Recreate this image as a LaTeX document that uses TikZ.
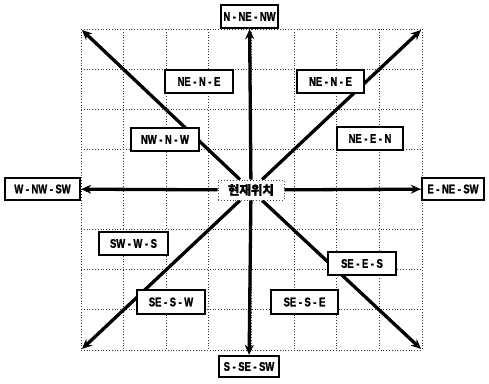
\documentclass[tikz,border=0pt]{standalone}
\usepackage{fontspec}
\setmainfont{Liberation Sans}[FakeStretch=0.75,FakeBold=1.5]
\newfontfamily\krfont{Noto Sans CJK KR}[FakeBold=1.5]
\usetikzlibrary{arrows.meta}
\begin{document}
\begin{tikzpicture}[x=1pt,y=-1pt,
  box/.style={draw=black,line width=2.3pt,fill=white,inner sep=0pt,
    font=\fontsize{12.5}{12.5}\selectfont\bfseries},
  centerbox/.style={draw=black!70,dotted,line width=0.9pt,fill=white,inner sep=0pt,
    minimum width=66,minimum height=20,font=\krfont\fontsize{12.5}{12.5}\selectfont\bfseries},
  arr/.style={line width=3.3pt,-{Stealth[length=10pt,width=9pt]}},
  gridline/.style={black!80,dotted,line width=0.8pt}]
\useasboundingbox (0,0) rectangle (489,383);
\fill[white] (0,0) rectangle (489,383);
% grid
\foreach \i in {0,...,8}{
  \draw[gridline] ({81+\i*42.625},29) -- ({81+\i*42.625},350);
  \draw[gridline] (81,{29+\i*40.125}) -- (422,{29+\i*40.125});
}
% corner coordinates
\coordinate (cnw) at (82,30);
\coordinate (cne) at (421,30);
\coordinate (csw) at (82,349);
\coordinate (cse) at (421,349);
% outer boxes
\node[box,minimum width=57,minimum height=23] (N) at (249.5,16.5) {N - NE - NW};
\node[box,minimum width=60,minimum height=21] (S) at (249,366.5) {S - SE - SW};
\node[box,minimum width=75,minimum height=22] (W) at (42.5,189) {W - NW - SW};
\node[box,minimum width=62,minimum height=22] (E) at (453,189) {E - NE - SW};
% center
\node[centerbox] (C) at (251,190) {현재위치};
% arrows
\draw[arr] (C) -- (N);
\draw[arr] (C) -- (S);
\draw[arr] (C) -- (W);
\draw[arr] (C) -- (E);
\draw[arr] (C) -- (cnw);
\draw[arr] (C) -- (cne);
\draw[arr] (C) -- (csw);
\draw[arr] (C) -- (cse);
\node[centerbox] at (C) {현재위치};
% inner boxes
\node[box,minimum width=68,minimum height=23] (b1) at (199,81.5) {NE - N - E};
\node[box,minimum width=67,minimum height=23] (b2) at (330.5,81.5) {NE - N - E};
\node[box,minimum width=68,minimum height=23] (b3) at (165,139.5) {NW - N - W};
\node[box,minimum width=66,minimum height=23] (b4) at (370,138.5) {NE - E - N};
\node[box,minimum width=69,minimum height=23] (b5) at (133.5,243.5) {SW - W - S};
\node[box,minimum width=68,minimum height=24] (b6) at (171,302) {SE - S - W};
\node[box,minimum width=68,minimum height=23] (b7) at (362,263.5) {SE - E - S};
\node[box,minimum width=67,minimum height=24] (b8) at (304.5,302) {SE - S - E};
\end{tikzpicture}
\end{document}
